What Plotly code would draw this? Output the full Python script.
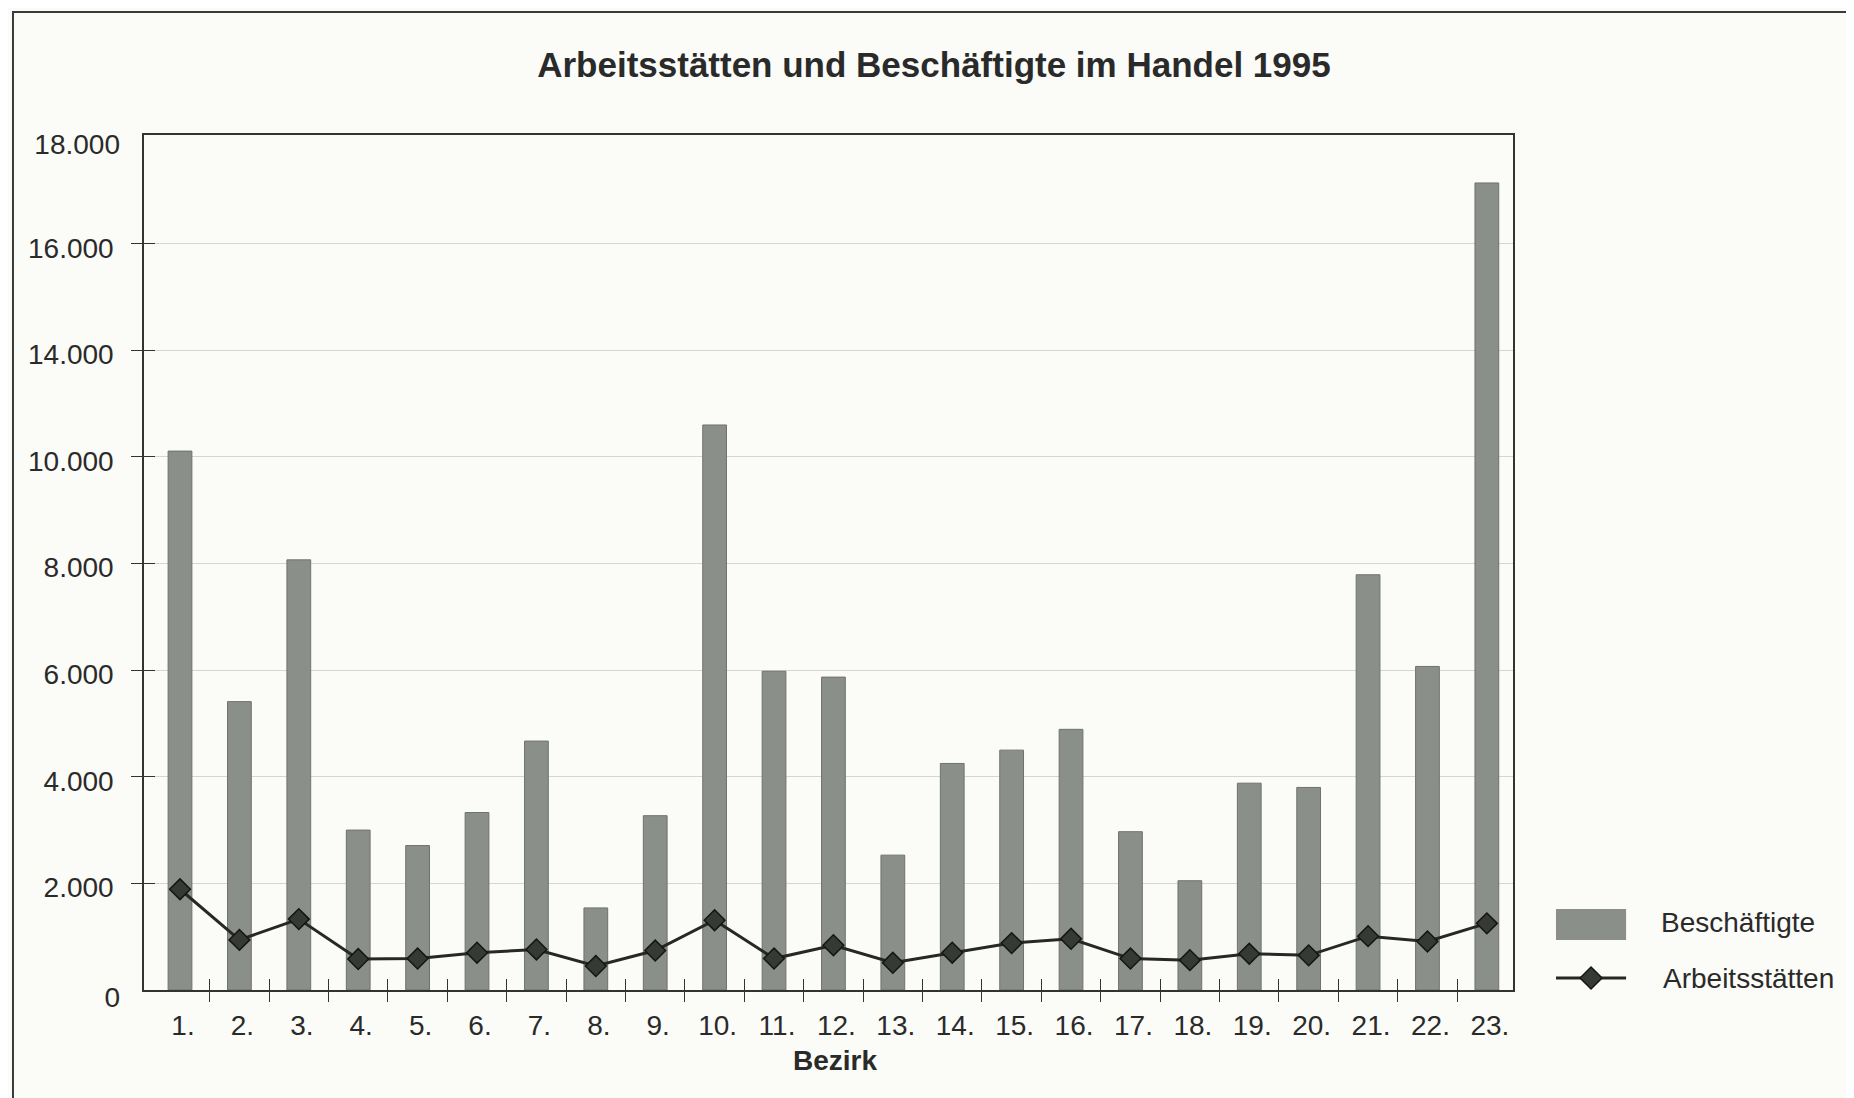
import plotly.graph_objects as go

bezirke = ["1.", "2.", "3.", "4.", "5.", "6.", "7.", "8.", "9.", "10.", "11.", "12.",
           "13.", "14.", "15.", "16.", "17.", "18.", "19.", "20.", "21.", "22.", "23."]
beschaeftigte = [10110, 5410, 8070, 3000, 2710, 3330, 4670, 1540, 3270, 10600, 5980, 5870,
                 2530, 4250, 4500, 4890, 2970, 2050, 3880, 3800, 7790, 6070, 15140]
arbeitsstaetten = [1890, 940, 1330, 580, 590, 700, 760, 450, 740, 1310, 590, 840,
                   510, 700, 880, 960, 590, 560, 680, 650, 1010, 910, 1250]
y_tickvals = [2000, 4000, 6000, 8000, 10000, 12000, 14000]
y_ticktext = ["2.000", "4.000", "6.000", "8.000", "10.000", "14.000", "16.000"]
y_endvals = [0, 16000]
y_endtext = ["0", "18.000"]

FONT = "Liberation Sans, Arial, sans-serif"
TXT = "#2a2a2a"
BG = "#fbfbf7"
BAR = "#8b8f89"
BAR_EDGE = "#6f736d"
LINE = "#262826"
MARK = "#353a35"
FS = 28

idx = list(range(len(bezirke)))
halves = [i + 0.5 for i in idx[:-1]]

fig = go.Figure()
fig.add_trace(go.Bar(x=idx, y=beschaeftigte, name="Beschäftigte", width=0.4,
                     marker=dict(color=BAR, line=dict(color=BAR_EDGE, width=1)),
                     showlegend=False))
fig.add_trace(go.Scatter(x=idx, y=arbeitsstaetten, name="Arbeitsstätten", mode="lines+markers",
                         line=dict(color=LINE, width=3),
                         marker=dict(symbol="diamond", size=16, color=MARK,
                                     line=dict(color="#151515", width=1.5)),
                         showlegend=False))
# helper (empty) trace so the overlay axes are rendered
fig.add_trace(go.Scatter(x=[None], y=[None], xaxis="x2", yaxis="y2", showlegend=False,
                         hoverinfo="skip"))

xr = [-0.606, 22.44]
yr = [0, 16040]
fig.update_layout(
    width=1846, height=1090,
    margin=dict(l=136, r=341, t=127, b=108),
    paper_bgcolor=BG, plot_bgcolor=BG,
    font=dict(family=FONT, color=TXT, size=FS),
    title=dict(text="<b>Arbeitsstätten und Beschäftigte im Handel 1995</b>",
               x=0.5016, xanchor="center", y=0.9477, yanchor="middle",
               font=dict(family=FONT, size=35, color=TXT)),
    xaxis=dict(range=xr, tickmode="array", tickvals=idx, ticktext=bezirke, ticks="",
               showgrid=False, zeroline=False, showline=True, mirror=True,
               linecolor="#333", linewidth=1.5, ticklabelstandoff=10, ticklabelshift=3,
               tickfont=dict(size=FS, color=TXT)),
    xaxis2=dict(range=xr, overlaying="x", side="bottom", anchor="y", tickmode="array",
                tickvals=halves, ticks="outside", ticklen=11, tickwidth=1.2, tickcolor="#333",
                showticklabels=False, showgrid=False, zeroline=False, showline=False,
                minor=dict(tickmode="array", tickvals=halves, ticks="inside", ticklen=11,
                           tickwidth=1.2, tickcolor="#333", showgrid=False)),
    yaxis=dict(range=yr, tickmode="array", tickvals=y_tickvals, ticktext=y_ticktext,
               ticks="outside", ticklen=11, tickwidth=1.2, tickcolor="#333",
               showgrid=True, gridcolor="#d6d6d1", gridwidth=1, zeroline=False,
               showline=True, mirror=True, linecolor="#333", linewidth=1.5,
               ticklabelstandoff=12, ticklabelshift=4, tickfont=dict(size=FS, color=TXT),
               minor=dict(tickmode="array", tickvals=y_tickvals, ticks="inside", ticklen=11,
                          tickwidth=1.2, tickcolor="#333", showgrid=False)),
    yaxis2=dict(range=yr, overlaying="y", side="left", anchor="x", tickmode="array",
                tickvals=y_endvals, ticktext=y_endtext, ticks="", showgrid=False,
                zeroline=False, showline=False, ticklabelstandoff=23, ticklabelshift=7,
                tickfont=dict(size=FS, color=TXT)),
    annotations=[
        dict(text="<b>Bezirk</b>", x=0.505, y=-0.083, xref="paper", yref="paper",
             showarrow=False, font=dict(size=FS, color=TXT), xanchor="center", yanchor="middle"),
        dict(text="Beschäftigte", x=1.1067, y=0.0784, xref="paper", yref="paper",
             showarrow=False, font=dict(size=FS, color=TXT), xanchor="left", yanchor="middle"),
        dict(text="Arbeitsstätten", x=1.1081, y=0.014, xref="paper", yref="paper",
             showarrow=False, font=dict(size=FS, color=TXT), xanchor="left", yanchor="middle"),
    ],
    shapes=[
        # outer frame
        dict(type="rect", xref="paper", yref="paper", x0=-0.0957, x1=1.30, y0=-0.20, y1=1.1439,
             line=dict(color="#3a3a3a", width=2), layer="below"),
        # legend keys
        dict(type="rect", xref="paper", yref="paper", x0=1.0314, x1=1.0826, y0=0.0585, y1=0.0947,
             fillcolor=BAR, line=dict(color=BAR, width=0)),
        dict(type="line", xref="paper", yref="paper", x0=1.0314, x1=1.0826, y0=0.014, y1=0.014,
             line=dict(color=LINE, width=3)),
        dict(type="path", xref="paper", yref="paper", xsizemode="pixel", ysizemode="pixel",
             xanchor=1.057, yanchor=0.014, path="M-11,0 L0,11 L11,0 L0,-11 Z",
             fillcolor=MARK, line=dict(color="#151515", width=1.5)),
    ],
)

fig.write_html("out.html")
